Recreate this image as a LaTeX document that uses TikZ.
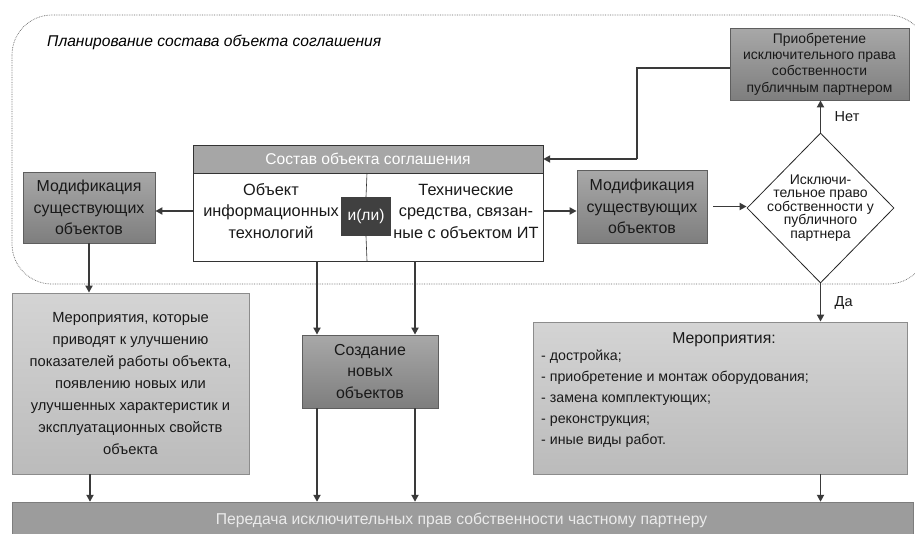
\documentclass[tikz,border=0pt]{standalone}
\usepackage{fontspec}
\setmainfont{Liberation Sans}
\usetikzlibrary{arrows.meta,shapes.geometric}
\definecolor{arrc}{HTML}{3A3A3A}
\definecolor{darktop}{HTML}{A8A8A8}
\definecolor{darkbot}{HTML}{7E7E7E}
\definecolor{darkedge}{HTML}{5E5E5E}
\definecolor{lighttop}{HTML}{D4D4D4}
\definecolor{lightbot}{HTML}{BBBBBB}
\definecolor{lightedge}{HTML}{8C8C8C}
\definecolor{hdrc}{HTML}{A6A6A6}
\definecolor{barc}{HTML}{9C9C9C}
\definecolor{ilic}{HTML}{404040}
\tikzset{
  darkbox/.style={draw=darkedge, line width=0.8pt, top color=darktop, bottom color=darkbot, align=center, inner sep=0pt, text=black!90},
  lightbox/.style={draw=lightedge, line width=0.8pt, top color=lighttop, bottom color=lightbot, align=center, inner sep=0pt, text=black!90},
  boxfont/.style={font=\fontsize{15.9}{21.5}\selectfont},
  arr/.style={draw=arrc, line width=1.8pt, -{Triangle[length=7pt,width=7pt]}},
  plainline/.style={draw=arrc, line width=1.8pt},
  lbl/.style={font=\fontsize{14.5}{16}\selectfont, text=black!90}
}
\begin{document}
\begin{tikzpicture}[x=1pt,y=-1pt]
\useasboundingbox (0,0) rectangle (915,533);
\clip (0,0) rectangle (915,533);
\fill[white] (0,0) rectangle (915,533);
% dotted planning region
\draw[densely dotted, black!60, line width=0.7pt, rounded corners=40pt] (12,15) rectangle (928,284);
\node[anchor=west, inner sep=0pt, font=\itshape\fontsize{15.6}{18}\selectfont] (title) at (47,42) {Планирование состава объекта соглашения};

% top right box
\node[darkbox, minimum width=179pt, minimum height=72pt, font=\fontsize{13.9}{16.3}\selectfont] (acq) at (819.5,64) {Приобретение\\исключительного права\\собственности\\публичным партнером};

% central composite
\node[draw=black!80, fill=hdrc, minimum width=350pt, minimum height=28pt, inner sep=0pt, text=white, font=\fontsize{15.6}{18}\selectfont] (hdr) at (368,159) {Состав объекта соглашения};
\node[draw=black!80, fill=white, minimum width=350pt, minimum height=88pt, inner sep=0pt] (wbox) at (368,217) {};
\coordinate (divtop) at (367,173);
\coordinate (divbot) at (367,261);
\node[fill=ilic, minimum width=50pt, minimum height=39pt, inner sep=0pt, text=white, font=\fontsize{15.6}{18}\selectfont] (ili) at (366,216.5) {и(ли)};
\draw[black!80, line width=0.6pt] (divtop) -- (ili.north);
\draw[black!80, line width=0.6pt] (ili.south) -- (divbot);
\node[font=\fontsize{16.3}{21.5}\selectfont, align=center, text=black!90] (objit) at (271,211) {Объект\\информационных\\технологий};
\node[font=\fontsize{16.3}{21.5}\selectfont, align=center, text=black!90] (tech) at (466,211) {Технические\\средства, связан-\\ные с объектом ИТ};

% modification boxes
\node[darkbox, boxfont, minimum width=132pt, minimum height=71pt] (modL) at (89,207.5) {Модификация\\существующих\\объектов};
\node[darkbox, boxfont, minimum width=130pt, minimum height=73pt] (modM) at (642,206.5) {Модификация\\существующих\\объектов};

% diamond
\node[diamond, draw=black!85, fill=white, line width=0.8pt, minimum width=147pt, minimum height=150pt, inner sep=0pt] (dia) at (820.5,208) {};
\node[align=center, font=\fontsize{14}{13.4}\selectfont, text=black!90] (diatext) at (dia.center) {Исключи-\\тельное право\\собственности у\\публичного\\партнера};

% lower boxes
\node[lightbox, minimum width=237pt, minimum height=181pt, font=\fontsize{14.7}{22}\selectfont] (mer1) at (130.5,383.5) {Мероприятия, которые\\приводят к улучшению\\показателей работы объекта,\\появлению новых или\\улучшенных характеристик и\\эксплуатационных свойств\\объекта};
\node[darkbox, boxfont, minimum width=136pt, minimum height=73pt] (create) at (370,371.5) {Создание\\новых\\объектов};
\node[lightbox, minimum width=374pt, minimum height=152pt] (mer2) at (720,398) {};
\node[font=\fontsize{15.8}{17}\selectfont, text=black!90] (mer2title) at (724,340) {Мероприятия:};
\node[anchor=north west, align=left, inner sep=0pt, font=\fontsize{14.2}{21}\selectfont, text=black!90] (mer2list) at (541,350) {- достройка;\\- приобретение и монтаж оборудования;\\- замена комплектующих;\\- реконструкция;\\- иные виды работ.};

% bottom bar
\node[draw=barc!80!black, fill=barc, minimum width=901pt, minimum height=40pt, inner sep=0pt] (bar) at (462.5,522) {};
\node[text=white!92!black, font=\fontsize{15.7}{18}\selectfont] (bartext) at (461.5,520) {Передача исключительных прав собственности частному партнеру};

% connectors
\coordinate (bend) at (637,159);
\draw[plainline] ([yshift=-4pt]acq.west) -| (bend);
\draw[arr] (bend) -- (hdr.east);
\draw[arr] ([yshift=6pt]wbox.west) -- ([yshift=6pt]wbox.west -| modL.east);
\draw[arr] ([yshift=6pt]wbox.east) -- ([yshift=6pt]wbox.east -| modM.west);
\draw[arr, shorten <=6pt] (modM.east) -- (modM.east -| dia.west);
\draw[arr] (dia.north) -- (dia.north |- acq.south) node[lbl, midway, right=10pt] {Нет};
\draw[arr] (dia.south) -- (dia.south |- mer2.north) node[lbl, midway, right=10pt] {Да};
\draw[arr] (modL.south) -- (modL.south |- mer1.north);
\coordinate (m1b) at (90,474);
\draw[arr] (m1b) -- (m1b |- bar.north);
\coordinate (wA) at (317,261);
\coordinate (wB) at (415,261);
\draw[arr] (wA) -- (wA |- create.north);
\draw[arr] (wB) -- (wB |- create.north);
\draw[arr] (wA |- create.south) -- (wA |- bar.north);
\draw[arr] (wB |- create.south) -- (wB |- bar.north);
\draw[arr] (dia.south |- mer2.south) -- (dia.south |- bar.north);
\end{tikzpicture}
\end{document}
